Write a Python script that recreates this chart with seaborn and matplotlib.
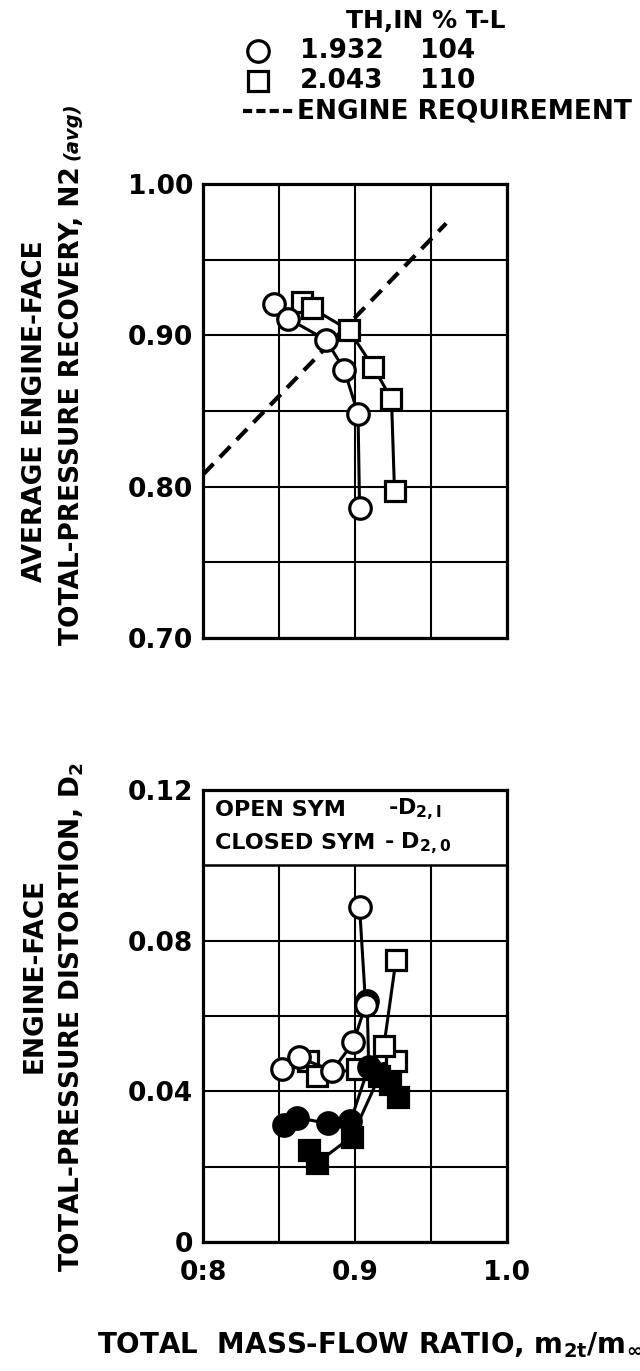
import matplotlib
matplotlib.use("Agg")
import matplotlib.pyplot as plt
import seaborn as sns
from matplotlib.lines import Line2D
from matplotlib.ticker import FixedLocator

# ---- data -------------------------------------------------------------
# average total-pressure recovery vs total mass-flow ratio
rec_104_x = [0.847, 0.856, 0.881, 0.893, 0.902, 0.903]
rec_104_y = [0.921, 0.911, 0.897, 0.877, 0.848, 0.786]
rec_110_x = [0.865, 0.8715, 0.896, 0.912, 0.924, 0.926]
rec_110_y = [0.922, 0.918, 0.9035, 0.879, 0.858, 0.797]
req_x = [0.80, 0.96]
req_y = [0.808, 0.974]

# engine-face distortion (open = D2,I ; closed = D2,0)
dI_104_x = [0.852, 0.863, 0.885, 0.899, 0.907, 0.903]
dI_104_y = [0.046, 0.049, 0.0455, 0.053, 0.063, 0.089]
d0_104_x = [0.853, 0.862, 0.882, 0.897, 0.909, 0.908]
d0_104_y = [0.031, 0.033, 0.0315, 0.032, 0.0465, 0.064]
dI_110_x = [0.869, 0.875, 0.901, 0.927, 0.919, 0.927]
dI_110_y = [0.048, 0.044, 0.046, 0.048, 0.052, 0.075]
d0_110_x = [0.870, 0.875, 0.898, 0.916, 0.923, 0.9285]
d0_110_y = [0.0244, 0.021, 0.028, 0.044, 0.042, 0.0386]

x_ticks = [0.8, 0.9, 1.0]
x_ticklabels = ["0:8", "0.9", "1.0"]
x_grid = [0.85, 0.95]
rec_ticks = [0.70, 0.80, 0.90, 1.00]
rec_ticklabels = ["0.70", "0.80", "0.90", "1.00"]
rec_grid = [0.75, 0.85, 0.95]
dist_ticks = [0.0, 0.04, 0.08, 0.12]
dist_ticklabels = ["0", "0.04", "0.08", "0.12"]
dist_grid = [0.02, 0.06, 0.10]

# ---- style ------------------------------------------------------------
sns.set_theme(style="white")
plt.rcParams["font.family"] = ["DejaVu Sans"]
plt.rcParams["font.weight"] = "bold"
plt.rcParams["mathtext.default"] = "bf"
plt.rcParams["text.color"] = "black"
plt.rcParams["xtick.color"] = "black"
plt.rcParams["ytick.color"] = "black"
plt.rcParams["xtick.labelcolor"] = "black"
plt.rcParams["ytick.labelcolor"] = "black"

W, H = 640, 1371
FS = 19
fig = plt.figure(figsize=(W / 100, H / 100), dpi=100)
fig.patch.set_facecolor("white")


def fx(px):
    return px / W


def fy(py):
    return 1 - py / H


ax1 = fig.add_axes([fx(203), fy(638), (507 - 203) / W, (638 - 184) / H])
ax2 = fig.add_axes([fx(203), fy(1242), (507 - 203) / W, (1242 - 790) / H])

LW = 2.2
MEW = 2.3
MS_C = 15.5
MS_S = 14.0


def series(ax, x, y, marker, filled, ms):
    sns.lineplot(x=x, y=y, ax=ax, sort=False, estimator=None,
                 color="black", lw=LW, marker=marker, ms=ms,
                 mfc="black" if filled else "white", mec="black", mew=MEW)


# recovery
sns.lineplot(x=req_x, y=req_y, ax=ax1, sort=False, estimator=None,
             color="black", lw=3.0, linestyle=(0, (3.6, 2.2)),
             dash_capstyle="butt")
series(ax1, rec_110_x, rec_110_y, "s", False, MS_S)
series(ax1, rec_104_x, rec_104_y, "o", False, MS_C)

# distortion
series(ax2, dI_110_x, dI_110_y, "s", False, MS_S)
series(ax2, d0_110_x, d0_110_y, "s", True, MS_S)
series(ax2, d0_104_x, d0_104_y, "o", True, MS_C)
series(ax2, dI_104_x, dI_104_y, "o", False, MS_C)

for ax, yt, ytl, yg, ylim in [
    (ax1, rec_ticks, rec_ticklabels, rec_grid, (0.70, 1.00)),
    (ax2, dist_ticks, dist_ticklabels, dist_grid, (0.0, 0.12)),
]:
    ax.set_xlim(0.8, 1.0)
    ax.set_ylim(*ylim)
    ax.xaxis.set_major_locator(FixedLocator(x_ticks))
    ax.xaxis.set_minor_locator(FixedLocator(x_grid))
    ax.yaxis.set_major_locator(FixedLocator(yt))
    ax.yaxis.set_minor_locator(FixedLocator(yg))
    ax.set_yticklabels(ytl)
    ax.grid(True, which="both", color="black", lw=1.5)
    ax.set_axisbelow(True)
    ax.tick_params(which="both", length=0, labelsize=FS, labelcolor="black")
    ax.tick_params(axis="y", pad=7)
    ax.tick_params(axis="x", pad=13)
    for sp in ax.spines.values():
        sp.set_color("black")
        sp.set_linewidth(2.3)
    ax.set_xlabel("")
    ax.set_ylabel("")

ax1.set_xticklabels([])
ax2.set_xticklabels(x_ticklabels)

# key box in the distortion panel
ax2.axhspan(0.10, 0.12, facecolor="white", edgecolor="black", lw=1.8, zorder=1.5)
ax2.text(0.04, 0.1148, "OPEN SYM", fontsize=16, va="center", ha="left",
         transform=ax2.get_yaxis_transform())
ax2.text(0.04, 0.1058, "CLOSED SYM", fontsize=16, va="center", ha="left",
         transform=ax2.get_yaxis_transform())
ax2.text(0.61, 0.1148, "-D$_{2,I}$", fontsize=16, va="center", ha="left",
         transform=ax2.get_yaxis_transform())
ax2.text(0.595, 0.1058, "- D$_{2,0}$", fontsize=16, va="center", ha="left",
         transform=ax2.get_yaxis_transform())

# y-axis titles
renderer = fig.canvas.get_renderer()
fig.text(fx(35), fy(411), "AVERAGE ENGINE-FACE", rotation=90, fontsize=FS,
         ha="center", va="center", rotation_mode="anchor")
main = fig.text(fx(72), fy(645), "TOTAL-PRESSURE RECOVERY, N2", rotation=90,
                fontsize=FS, ha="left", va="center", rotation_mode="anchor")
bb = main.get_window_extent(renderer)
fig.text(fx(72), (bb.y1 + 6) / H, "(avg)", rotation=90, fontsize=14,
         style="italic", ha="left", va="center", rotation_mode="anchor")

fig.text(fx(35), fy(975), "ENGINE-FACE", rotation=90, fontsize=FS,
         ha="center", va="center", rotation_mode="anchor")
fig.text(fx(72), fy(1017), "TOTAL-PRESSURE DISTORTION, D$_2$", rotation=90,
         fontsize=FS, ha="center", va="center", rotation_mode="anchor")

# x-axis title
fig.text(fx(97), fy(1345), "TOTAL  MASS-FLOW RATIO, m$_{2t}$/m$_{\\infty}$",
         fontsize=20, ha="left", va="center")

# key at the top
fig.text(fx(346), fy(21), "TH,IN % T-L", fontsize=18, ha="left", va="center")
fig.add_artist(Line2D([fx(258)], [fy(51)], transform=fig.transFigure,
                      marker="o", ms=MS_C, mfc="white", mec="black", mew=MEW,
                      ls="none"))
fig.add_artist(Line2D([fx(258)], [fy(81)], transform=fig.transFigure,
                      marker="s", ms=MS_S, mfc="white", mec="black", mew=MEW,
                      ls="none"))
fig.text(fx(300), fy(51), "1.932", fontsize=FS, ha="left", va="center")
fig.text(fx(420), fy(51), "104", fontsize=FS, ha="left", va="center")
fig.text(fx(300), fy(81), "2.043", fontsize=FS, ha="left", va="center")
fig.text(fx(420), fy(81), "110", fontsize=FS, ha="left", va="center")
fig.add_artist(Line2D([fx(243), fx(293)], [fy(111), fy(111)],
                      transform=fig.transFigure, color="black", lw=3.0,
                      linestyle=(0, (2.2, 1.0)), dash_capstyle="butt"))
fig.text(fx(297), fy(111), "ENGINE REQUIREMENT", fontsize=19, ha="left",
         va="center")

fig.savefig("out.png", dpi=100, facecolor="white")
